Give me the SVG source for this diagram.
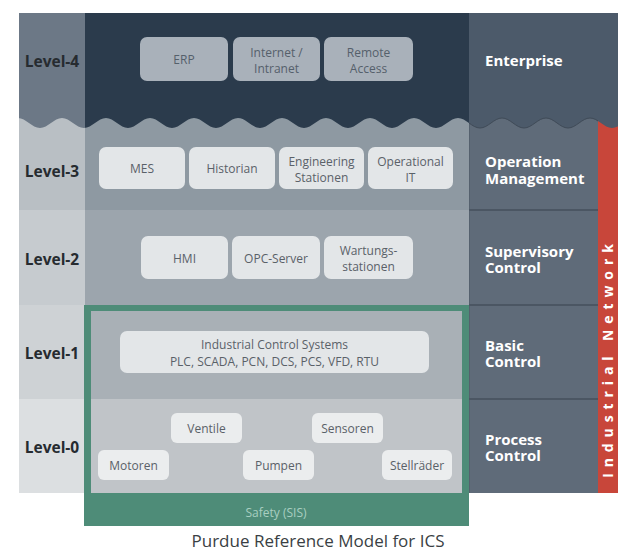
<svg xmlns="http://www.w3.org/2000/svg" width="636" height="560" viewBox="0 0 636 560">
<style>
.lvl{font-family:"Open Sans","Noto Sans",sans-serif;font-weight:bold;font-size:15.5px;fill:#262b30;text-anchor:middle}
.rt{font-family:"Open Sans","Noto Sans",sans-serif;font-weight:bold;font-size:15px;fill:#ffffff}
.bx{font-family:"Open Sans","Noto Sans",sans-serif;font-size:12px;fill:#5a6168;text-anchor:middle}
.bx4{font-family:"Open Sans","Noto Sans",sans-serif;font-size:12px;fill:#55606b;text-anchor:middle}
.box{fill:#e3e6e8}
.box0{fill:#ebedee}
.box4{fill:#a9b1ba}
.div{stroke:#4b5663;stroke-width:2}
</style>
<defs>
<path id="wave" d="M18,118 C26,118 32,128 40,128 S54,118 62,118 S76,128 84,128 S98,118 106,118 S120,128 128,128 S142,118 150,118 S164,128 172,128 S186,118 194,118 S208,128 216,128 S230,118 238,118 S252,128 260,128 S274,118 282,118 S296,128 304,128 S318,118 326,118 S340,128 348,128 S362,118 370,118 S384,128 392,128 S406,118 414,118 S428,128 436,128 S450,118 458,118 S472,128 480,128 S494,118 502,118 S516,128 524,128 S538,118 546,118 S560,128 568,128 S582,118 590,118 S604,128 612,128 S626,118 634,118"/>
<clipPath id="top4">
<path d="M18,5 L18,118 C26,118 32,128 40,128 S54,118 62,118 S76,128 84,128 S98,118 106,118 S120,128 128,128 S142,118 150,118 S164,128 172,128 S186,118 194,118 S208,128 216,128 S230,118 238,118 S252,128 260,128 S274,118 282,118 S296,128 304,128 S318,118 326,118 S340,128 348,128 S362,118 370,118 S384,128 392,128 S406,118 414,118 S428,128 436,128 S450,118 458,118 S472,128 480,128 S494,118 502,118 S516,128 524,128 S538,118 546,118 S560,128 568,128 S582,118 590,118 S604,128 612,128 S626,118 634,118 L634,5 Z"/>
</clipPath>
<clipPath id="rcol"><rect x="469" y="100" width="129" height="40"/></clipPath>
</defs>

<!-- lower rows background -->
<g id="rows">
<rect x="19" y="110" width="66" height="100" fill="#b9bfc4"/>
<rect x="85" y="110" width="384" height="100" fill="#8e99a2"/>
<rect x="19" y="210" width="66" height="95" fill="#c6cbcf"/>
<rect x="85" y="210" width="384" height="95" fill="#9ca5ad"/>
<rect x="19" y="305" width="66" height="94" fill="#ced2d5"/>
<rect x="19" y="399" width="66" height="94" fill="#dcdfe1"/>
<rect x="469" y="110" width="129" height="383" fill="#5f6b79"/>
<line x1="469.5" y1="110" x2="469.5" y2="493" stroke="#55616e" stroke-width="1"/>
<line class="div" x1="469" y1="210" x2="598" y2="210"/>
<line class="div" x1="469" y1="305" x2="598" y2="305"/>
<line class="div" x1="469" y1="399" x2="598" y2="399"/>
<rect x="598" y="110" width="20" height="383" fill="#c8463a"/>
</g>

<!-- safety frame -->
<g id="safety">
<rect x="84" y="305" width="385" height="221" fill="#4e8c78"/>
<rect x="91" y="311" width="371" height="88" fill="#a9b0b6"/>
<rect x="91" y="399" width="371" height="94" fill="#c0c4c8"/>
<text x="276" y="517" font-family="Open Sans, Noto Sans, sans-serif" font-size="12" fill="#a9cfc1" text-anchor="middle">Safety (SIS)</text>
</g>

<!-- level-4 band with wave -->
<g id="level4band" clip-path="url(#top4)">
<rect x="19" y="13" width="66" height="120" fill="#6c7886"/>
<rect x="85" y="13" width="384" height="120" fill="#2b3b4c"/>
<rect x="469" y="13" width="149" height="120" fill="#4c5a6a"/>
</g>
<use href="#wave" fill="none" stroke="#3f4a57" stroke-width="1" clip-path="url(#rcol)"/>

<!-- level labels -->
<g id="levels">
<text class="lvl" x="52" y="67">Level-4</text>
<text class="lvl" x="52" y="177">Level-3</text>
<text class="lvl" x="52" y="265">Level-2</text>
<text class="lvl" x="52" y="359">Level-1</text>
<text class="lvl" x="52" y="453">Level-0</text>
</g>

<!-- right labels -->
<g id="right-labels">
<text class="rt" x="485" y="66">Enterprise</text>
<text class="rt" x="485" y="167">Operation<tspan x="485" y="184">Management</tspan></text>
<text class="rt" x="485" y="257">Supervisory<tspan x="485" y="273">Control</tspan></text>
<text class="rt" x="485" y="351">Basic<tspan x="485" y="367">Control</tspan></text>
<text class="rt" x="485" y="445">Process<tspan x="485" y="461">Control</tspan></text>
</g>

<g id="industrial-network">
<text transform="translate(613,358) rotate(-90)" font-family="Open Sans, Noto Sans, sans-serif" font-weight="bold" font-size="14" fill="#ffffff" text-anchor="middle" letter-spacing="5.9">Industrial Network</text>
</g>

<!-- level 4 nodes -->
<g id="erp"><rect class="box4" x="140" y="37" width="88" height="44" rx="7"/><text class="bx4" x="184" y="64">ERP</text></g>
<g id="internet"><rect class="box4" x="233" y="37" width="87" height="44" rx="7"/><text class="bx4" x="276.5" y="57">Internet /<tspan x="276.5" y="73">Intranet</tspan></text></g>
<g id="remote"><rect class="box4" x="324" y="37" width="89" height="44" rx="7"/><text class="bx4" x="368.5" y="57">Remote<tspan x="368.5" y="73">Access</tspan></text></g>

<!-- level 3 nodes -->
<g id="mes"><rect class="box" x="99" y="147" width="86" height="42" rx="7"/><text class="bx" x="142" y="173">MES</text></g>
<g id="historian"><rect class="box" x="189" y="147" width="86" height="42" rx="7"/><text class="bx" x="232" y="173">Historian</text></g>
<g id="engineering"><rect class="box" x="279" y="147" width="85" height="42" rx="7"/><text class="bx" x="321.5" y="166">Engineering<tspan x="321.5" y="182">Stationen</tspan></text></g>
<g id="operational"><rect class="box" x="368" y="147" width="85" height="42" rx="7"/><text class="bx" x="410.5" y="166">Operational<tspan x="410.5" y="182">IT</tspan></text></g>

<!-- level 2 nodes -->
<g id="hmi"><rect class="box" x="141" y="236" width="87" height="43" rx="7"/><text class="bx" x="184.5" y="263">HMI</text></g>
<g id="opc"><rect class="box" x="232" y="236" width="88" height="43" rx="7"/><text class="bx" x="276" y="263">OPC-Server</text></g>
<g id="wartung"><rect class="box" x="324" y="236" width="89" height="43" rx="7"/><text class="bx" x="368.5" y="255">Wartungs-<tspan x="368.5" y="271">stationen</tspan></text></g>

<!-- level 1 node -->
<g id="ics"><rect class="box" x="120" y="331" width="309" height="42" rx="7"/><text class="bx" x="274.5" y="349">Industrial Control Systems<tspan x="274.5" y="366">PLC, SCADA, PCN, DCS, PCS, VFD, RTU</tspan></text></g>

<!-- level 0 nodes -->
<g id="ventile"><rect class="box0" x="171" y="413" width="71" height="30" rx="6"/><text class="bx" x="206.5" y="433">Ventile</text></g>
<g id="sensoren"><rect class="box0" x="312" y="413" width="71" height="30" rx="6"/><text class="bx" x="347.5" y="433">Sensoren</text></g>
<g id="motoren"><rect class="box0" x="98" y="450" width="71" height="30" rx="6"/><text class="bx" x="133.5" y="470">Motoren</text></g>
<g id="pumpen"><rect class="box0" x="243" y="450" width="71" height="30" rx="6"/><text class="bx" x="278.5" y="470">Pumpen</text></g>
<g id="stellraeder"><rect class="box0" x="382" y="450" width="70" height="30" rx="6"/><text class="bx" x="417" y="470">Stellräder</text></g>

<g id="connectors"></g>

<text x="318" y="547" font-family="Open Sans, Noto Sans, sans-serif" font-size="17" fill="#3a3f44" text-anchor="middle">Purdue Reference Model for ICS</text>
</svg>
